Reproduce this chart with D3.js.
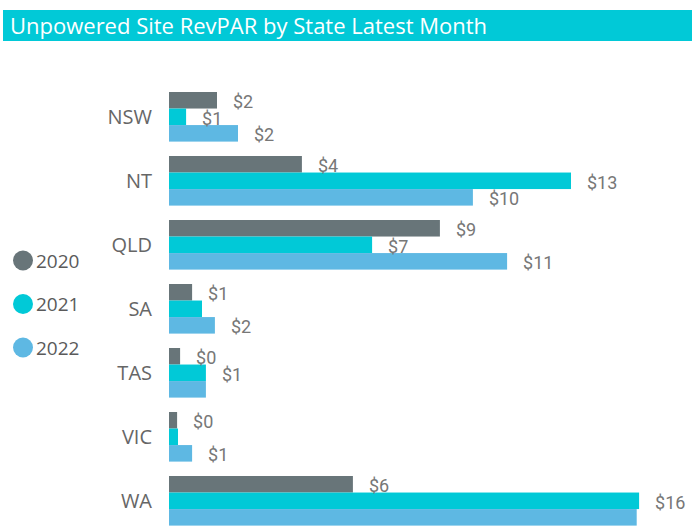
<!DOCTYPE html>
<meta charset="utf-8">
<style>
 body { margin: 0; background: #fff; }
 .title text { fill: #fff; font: 22px "Open Sans", sans-serif; }
 .cat text { fill: #666; font: 20px "Open Sans", sans-serif; }
 .legend text { fill: #5a5a5a; font: 19px "Open Sans", sans-serif; }
 .lbl { fill: #777; font: 18px Roboto, sans-serif; }
</style>
<svg class="chart"></svg>
<script src="https://cdn.jsdelivr.net/npm/d3@7"></script>
<script>

 var width = 692, height = 532;

 var states = ["NSW", "NT", "QLD", "SA", "TAS", "VIC", "WA"];
 var years = ["2020", "2021", "2022"];
 var colors = ["#687579", "#01C9D7", "#5EB8E3"];

 var rev2020 = [1.6, 4.43, 9.03, 0.77, 0.37, 0.27, 6.13];
 var rev2021 = [0.57, 13.4, 6.77, 1.1, 1.23, 0.3, 15.67];
 var rev2022 = [2.3, 10.13, 11.27, 1.53, 1.23, 0.77, 15.59];

 var series = [rev2020, rev2021, rev2022];

 var rows = [];
 states.forEach(function(s, i) {
     years.forEach(function(yr, j) {
         rows.push({ state: s, year: yr, k: j, v: series[j][i] });
     });
 });

 var svg = d3.select(".chart").attr("width", width).attr("height", height);

 // title band
 var title = svg.append("g").attr("class", "title");
 title.append("rect").attr("x", 3).attr("y", 10).attr("width", width - 3).attr("height", 31)
      .attr("fill", "#01C9D7");
 title.append("text").attr("x", 10).attr("y", 34).text("Unpowered Site RevPAR by State Latest Month");

 var x = d3.scaleLinear().domain([0, 16]).range([169, 649]);
 var y = d3.scaleBand().domain(states).range([84.8, 532.8]).paddingInner(0.225).paddingOuter(0.1125);
 var y1 = d3.scaleBand().domain(years).range([0, y.bandwidth()]);

 // category labels
 svg.append("g").attr("class", "cat").selectAll("text").data(states).enter()
    .append("text")
    .attr("x", 152)
    .attr("y", function(d) { return y(d) + y.bandwidth() / 2 + 7.5; })
    .attr("text-anchor", "end")
    .text(function(d) { return d; });

 // bars
 svg.append("g").selectAll("rect").data(rows).enter()
    .append("rect")
    .attr("x", x(0))
    .attr("y", function(d) { return y(d.state) + y1(d.year); })
    .attr("width", function(d) { return x(d.v) - x(0); })
    .attr("height", y1.bandwidth())
    .attr("fill", function(d) { return colors[d.k]; });

 // data labels, drop the ones that collide with one already placed
 var fmt = d3.format(".0f");
 var placed = [];
 svg.append("g").selectAll("text").data(rows).enter()
    .append("text")
    .attr("class", "lbl")
    .attr("x", function(d) { return x(d.v) + 16; })
    .attr("y", function(d) { return y(d.state) + y1(d.year) + y1.bandwidth() / 2 + 8; })
    .text(function(d) { return "$" + fmt(d.v); })
    .each(function() {
        var b = this.getBBox();
        var hit = placed.some(function(p) {
            return b.x < p.x + p.width && p.x < b.x + b.width &&
                   b.y < p.y + p.height && p.y < b.y + b.height;
        });
        if (hit || b.x + b.width > width) d3.select(this).remove();
        else placed.push(b);
    });

 // legend
 var legend = svg.append("g").attr("class", "legend").selectAll("g").data(years).enter()
    .append("g")
    .attr("transform", function(d, i) { return "translate(23," + (260.5 + i * 43.5) + ")"; });
 legend.append("circle").attr("r", 10).attr("fill", function(d, i) { return colors[i]; });
 legend.append("text").attr("x", 13).attr("y", 7).text(function(d) { return d; });

</script>
